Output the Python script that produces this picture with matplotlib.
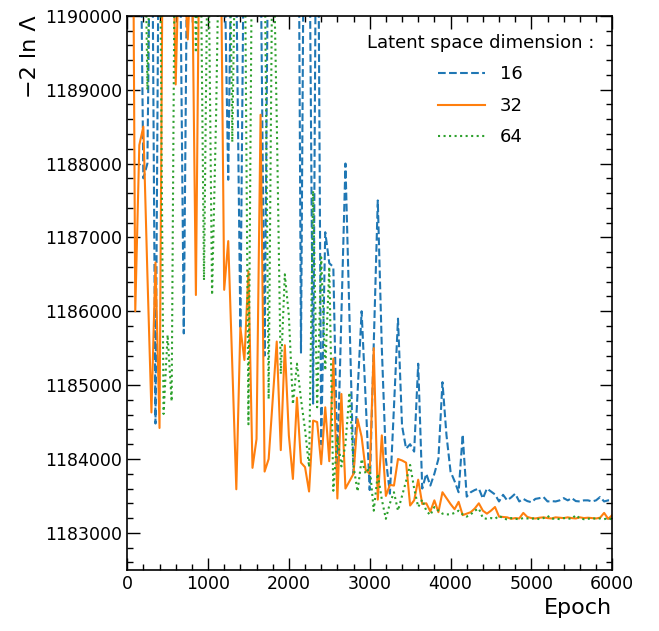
import numpy as np
import matplotlib
matplotlib.use("Agg")
import matplotlib.pyplot as plt
from matplotlib.ticker import MultipleLocator

# epochs where the likelihood was evaluated
epochs = list(range(0, 6001, 50))

# -2 ln Lambda, latent space dimension 16
nll_16 = [
    1195000, 1194000, 1191000, 1193000, 1187800, 1188000, 1193000, 1184480, 1193000, 1191500,
    1192000, 1191000, 1193000, 1191500, 1185700, 1192000, 1190500, 1192500, 1191000, 1193000,
    1191000, 1192500, 1190500, 1193000, 1191000, 1187780, 1192000, 1190500, 1185760, 1192000,
    1193000, 1190800, 1192500, 1191000, 1185400, 1192000, 1191000, 1193000, 1190600, 1192000,
    1191000, 1193000, 1196000, 1185440, 1194000, 1192000, 1184750, 1194000, 1184200, 1187070,
    1186650, 1186600, 1183900, 1185950, 1188000, 1185900, 1183800, 1184900, 1186000, 1184800,
    1183580, 1185550, 1187500, 1185500, 1184000, 1183530, 1184700, 1185900, 1184450, 1184140,
    1184200, 1184100, 1185290, 1183600, 1183800, 1183640, 1183800, 1184000, 1185040, 1184320,
    1183830, 1183700, 1183550, 1184330, 1183490, 1183550, 1183580, 1183600, 1183465, 1183600,
    1183560, 1183520, 1183425, 1183515, 1183440, 1183480, 1183530, 1183425, 1183460, 1183430,
    1183415, 1183460, 1183470, 1183485, 1183425, 1183430, 1183425, 1183440, 1183470, 1183440,
    1183470, 1183430, 1183425, 1183440, 1183440, 1183425, 1183440, 1183485, 1183425, 1183440,
    1183440,
]

# latent space dimension 32
nll_32 = [
    1200000, 1196000, 1186000, 1188250, 1188500, 1186500, 1184630, 1186660, 1184420, 1193000,
    1191500, 1192000, 1189070, 1191200, 1190600, 1189680, 1191000, 1186220, 1192000, 1191000,
    1190800, 1191500, 1190900, 1192000, 1186290, 1186950, 1185270, 1183590, 1185780, 1185340,
    1186540, 1183880, 1184270, 1188660, 1183830, 1184000, 1184800, 1185590, 1184120, 1185540,
    1184320, 1183730, 1184830, 1183950, 1183890, 1183560, 1184520, 1184500, 1183930, 1184700,
    1183970, 1185360, 1183465, 1184880, 1183600, 1183700, 1183800, 1184540, 1184300, 1183850,
    1183800, 1185500, 1183450, 1184320, 1183500, 1183650, 1183640, 1184000, 1183980, 1183950,
    1183370, 1183440, 1183720, 1183390, 1183400, 1183290, 1183440, 1183280, 1183550, 1183470,
    1183390, 1183320, 1183420, 1183240, 1183260, 1183280, 1183330, 1183400, 1183300, 1183260,
    1183300, 1183350, 1183220, 1183215, 1183210, 1183190, 1183200, 1183195, 1183270, 1183215,
    1183200, 1183195, 1183205, 1183210, 1183200, 1183195, 1183210, 1183205, 1183200, 1183210,
    1183200, 1183195, 1183210, 1183200, 1183205, 1183200, 1183195, 1183205, 1183270, 1183190,
    1183240,
]

# latent space dimension 64
nll_64 = [
    1196000, 1194000, 1192000, 1190500, 1193000, 1189000, 1192000, 1190500, 1192000, 1184610,
    1185680, 1184780, 1193000, 1190800, 1192500, 1191000, 1193000, 1189500, 1192000, 1186420,
    1191500, 1186220, 1188660, 1192000, 1190600, 1193000, 1188290, 1192000, 1190500, 1191800,
    1184470, 1192000, 1190500, 1192500, 1191000, 1184810, 1191500, 1188610, 1185150, 1186500,
    1185940, 1184740, 1185290, 1184810, 1184400, 1183890, 1187630, 1184700, 1186730, 1185200,
    1186600, 1183570, 1184300, 1183900, 1184200, 1184900, 1183900, 1183560, 1184000, 1183800,
    1183900, 1183300, 1183800, 1183450, 1183190, 1183400, 1183550, 1183300, 1183500, 1183700,
    1183920, 1183600, 1183350, 1183450, 1183300, 1183240, 1183350, 1183300, 1183260, 1183250,
    1183250, 1183270, 1183300, 1183250, 1183220, 1183250, 1183300, 1183330, 1183200, 1183190,
    1183200, 1183190, 1183230, 1183200, 1183180, 1183200, 1183190, 1183185, 1183200, 1183195,
    1183190, 1183200, 1183185, 1183200, 1183230, 1183190, 1183195, 1183185, 1183200, 1183195,
    1183190, 1183240, 1183195, 1183185, 1183190, 1183200, 1183190, 1183195, 1183185, 1183200,
    1183180,
]

series = [
    ("16", nll_16, "tab:blue", "--"),
    ("32", nll_32, "tab:orange", "-"),
    ("64", nll_64, "tab:green", ":"),
]

plt.rcParams["font.family"] = ["DejaVu Sans"]

fig = plt.figure(figsize=(6.59, 6.31), dpi=100)
ax = fig.add_axes([0.193, 0.097, 0.736, 0.878])

for label, vals, color, ls in series:
    ax.plot(epochs, vals, color=color, linestyle=ls, linewidth=1.5, label=label)

ax.set_xlim(0, 6000)
ax.set_ylim(1182500, 1190000)
ax.xaxis.set_major_locator(MultipleLocator(1000))
ax.xaxis.set_minor_locator(MultipleLocator(200))
ax.yaxis.set_major_locator(MultipleLocator(1000))
ax.yaxis.set_minor_locator(MultipleLocator(200))
ax.ticklabel_format(useOffset=False, style="plain")

ax.tick_params(which="both", direction="in", top=True, right=True, labelsize=12.5)
ax.tick_params(which="major", length=9, width=1)
ax.tick_params(which="minor", length=4.5, width=1)
for sp in ax.spines.values():
    sp.set_linewidth(1.2)

ax.set_xlabel("Epoch", fontsize=16, loc="right")
ax.set_ylabel("\u22122 ln \u039b", fontsize=16, loc="top")

ax.legend(title="Latent space dimension :", loc="upper right", frameon=False,
          fontsize=13, title_fontsize=13, handlelength=2.6, labelspacing=0.75,
          borderaxespad=0.6)

fig.savefig("out.png", dpi=100)
